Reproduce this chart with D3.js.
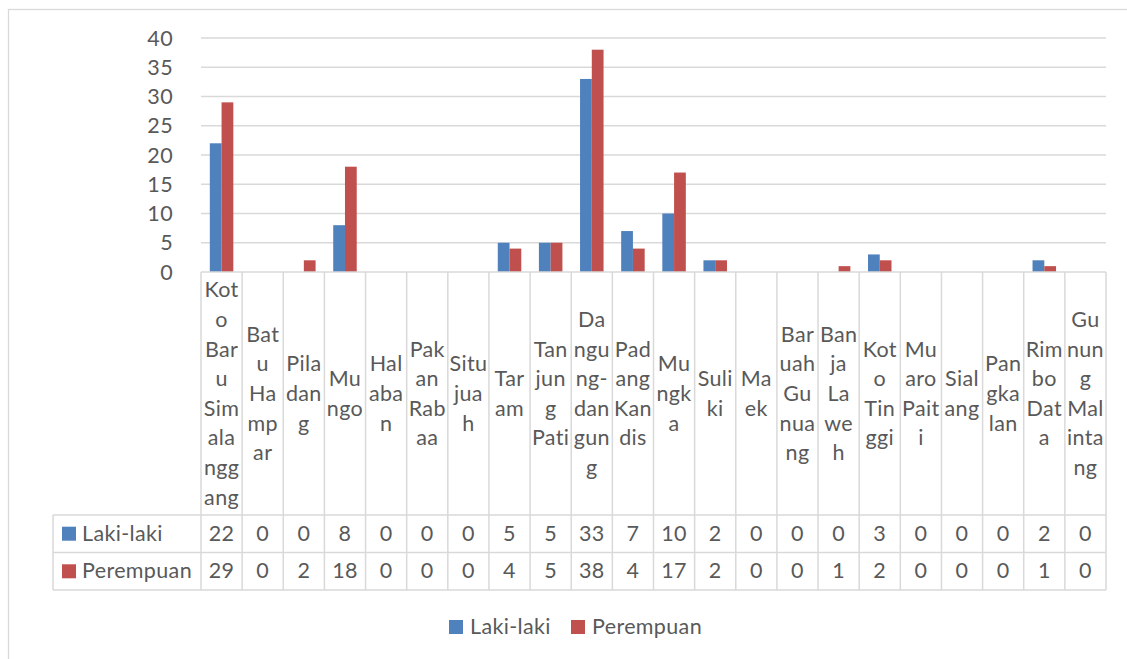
<!DOCTYPE html>
<html>
<head>
<meta charset="utf-8">
<script src="https://cdn.jsdelivr.net/npm/d3@7"></script>
<style>
  html, body { margin: 0; padding: 0; background: #fff; }
  svg { display: block; }
  text { font-family: Lato, "Noto Sans", sans-serif; fill: #595959; letter-spacing: 0.35px; }
</style>
</head>
<body>
<svg id="chart" width="1127" height="659"></svg>
<script>
// ---- Data ----
const categories = [
  "Koto Baru Simalanggang", "Batu Hampar", "Piladang", "Mungo", "Halaban",
  "Pakan Rabaa", "Situjuah", "Taram", "Tanjung Pati", "Dangung-dangung",
  "Padang Kandis", "Mungka", "Suliki", "Maek", "Baruah Gunuang",
  "Banja Laweh", "Koto Tinggi", "Muaro Paiti", "Sialang", "Pangkalan",
  "Rimbo Data", "Gunung Malintang"
];
const categoryLabelLines = [
  ["Kot","o","Bar","u","Sim","ala","ngg","ang"],
  ["Bat","u","Ha","mp","ar"],
  ["Pila","dan","g"],
  ["Mu","ngo"],
  ["Hal","aba","n"],
  ["Pak","an","Rab","aa"],
  ["Situ","jua","h"],
  ["Tar","am"],
  ["Tan","jun","g","Pati"],
  ["Da","ngu","ng-","dan","gun","g"],
  ["Pad","ang","Kan","dis"],
  ["Mu","ngk","a"],
  ["Suli","ki"],
  ["Ma","ek"],
  ["Bar","uah","Gu","nua","ng"],
  ["Ban","ja","La","we","h"],
  ["Kot","o","Tin","ggi"],
  ["Mu","aro","Pait","i"],
  ["Sial","ang"],
  ["Pan","gka","lan"],
  ["Rim","bo","Dat","a"],
  ["Gu","nun","g","Mal","inta","ng"]
];
const seriesNames = ["Laki-laki", "Perempuan"];
const lakiLaki  = [22, 0, 0, 8, 0, 0, 0, 5, 5, 33, 7, 10, 2, 0, 0, 0, 3, 0, 0, 0, 2, 0];
const perempuan = [29, 0, 2, 18, 0, 0, 0, 4, 5, 38, 4, 17, 2, 0, 0, 1, 2, 0, 0, 0, 1, 0];
const seriesColors = ["#4f81bd", "#c0504d"];
const yTicks = [0, 5, 10, 15, 20, 25, 30, 35, 40];

const seriesValues = [lakiLaki, perempuan];

// ---- Layout ----
const svg = d3.select("#chart");
const gridColor = "#d9d9d9";
const plotLeft = 201, plotRight = 1106, plotTop = 38, plotBottom = 272;
const tableLeft = 53;
const row1Top = 515, row2Top = 552.5, tableBottom = 590;
const fontSize = 21.5;

// outer chart border
svg.append("rect")
  .attr("x", 8.5).attr("y", 9.5)
  .attr("width", 1130).attr("height", 660)
  .attr("fill", "none").attr("stroke", gridColor).attr("stroke-width", 1.3);

const x0 = d3.scaleBand().domain(categories).range([plotLeft, plotRight]).padding(0);
const x1 = d3.scaleBand().domain(seriesNames).range([0, x0.bandwidth()])
  .paddingInner(0).paddingOuter(0.75);
const y = d3.scaleLinear().domain([0, 40]).range([plotBottom, plotTop]);

// gridlines
svg.append("g").selectAll("line").data(yTicks.filter(d => d > 0)).join("line")
  .attr("x1", plotLeft).attr("x2", plotRight)
  .attr("y1", d => y(d)).attr("y2", d => y(d))
  .attr("stroke", gridColor).attr("stroke-width", 1.3);

// y axis labels
svg.append("g").selectAll("text").data(yTicks).join("text")
  .attr("x", 173).attr("y", d => y(d) + 7.5)
  .attr("text-anchor", "end")
  .attr("font-size", fontSize)
  .text(d => d);

// bars
const barData = [];
categories.forEach((c, i) => {
  seriesNames.forEach((s, j) => {
    barData.push({ cat: c, series: s, value: seriesValues[j][i], color: seriesColors[j] });
  });
});
svg.append("g").selectAll("rect").data(barData).join("rect")
  .attr("x", d => x0(d.cat) + x1(d.series))
  .attr("y", d => y(d.value))
  .attr("width", x1.bandwidth())
  .attr("height", d => y(0) - y(d.value))
  .attr("fill", d => d.color);

// data table lines
const tableG = svg.append("g").attr("stroke", gridColor).attr("stroke-width", 1.5);
tableG.append("line").attr("x1", plotLeft).attr("x2", plotRight)
  .attr("y1", plotBottom).attr("y2", plotBottom);
[row1Top, row2Top, tableBottom].forEach(yy => {
  tableG.append("line").attr("x1", tableLeft).attr("x2", plotRight)
    .attr("y1", yy).attr("y2", yy);
});
const boundaries = categories.map(c => x0(c)).concat([plotRight]);
tableG.selectAll("line.v").data(boundaries).join("line").attr("class", "v")
  .attr("x1", d => d).attr("x2", d => d)
  .attr("y1", plotBottom).attr("y2", tableBottom);
tableG.append("line").attr("x1", tableLeft).attr("x2", tableLeft)
  .attr("y1", row1Top).attr("y2", tableBottom);

// category labels (wrapped)
const lineH = 29.6;
const labelCenter = (plotBottom + row1Top) / 2;
const catG = svg.append("g");
categories.forEach((c, i) => {
  const lines = categoryLabelLines[i];
  const n = lines.length;
  const t = catG.append("text")
    .attr("text-anchor", "middle")
    .attr("font-size", fontSize);
  lines.forEach((ln, k) => {
    t.append("tspan")
      .attr("x", x0(c) + x0.bandwidth() / 2)
      .attr("y", labelCenter + (k - (n - 1) / 2) * lineH + 7.5)
      .text(ln);
  });
});

// table values
const rowBaselines = [540.7, 578.3];
seriesNames.forEach((s, j) => {
  svg.append("g").selectAll("text").data(categories).join("text")
    .attr("x", d => x0(d) + x0.bandwidth() / 2)
    .attr("y", rowBaselines[j])
    .attr("text-anchor", "middle")
    .attr("font-size", fontSize)
    .text((d, i) => seriesValues[j][i]);
  svg.append("rect").attr("x", 62).attr("y", rowBaselines[j] - 14)
    .attr("width", 14).attr("height", 14).attr("fill", seriesColors[j]);
  svg.append("text").attr("x", 82).attr("y", rowBaselines[j])
    .attr("font-size", fontSize).text(s);
});

// bottom legend
const legendX = [449, 571];
seriesNames.forEach((s, j) => {
  svg.append("rect").attr("x", legendX[j]).attr("y", 620)
    .attr("width", 14).attr("height", 14).attr("fill", seriesColors[j]);
  svg.append("text").attr("x", legendX[j] + 21).attr("y", 634)
    .attr("font-size", fontSize).text(s);
});
</script>
</body>
</html>
